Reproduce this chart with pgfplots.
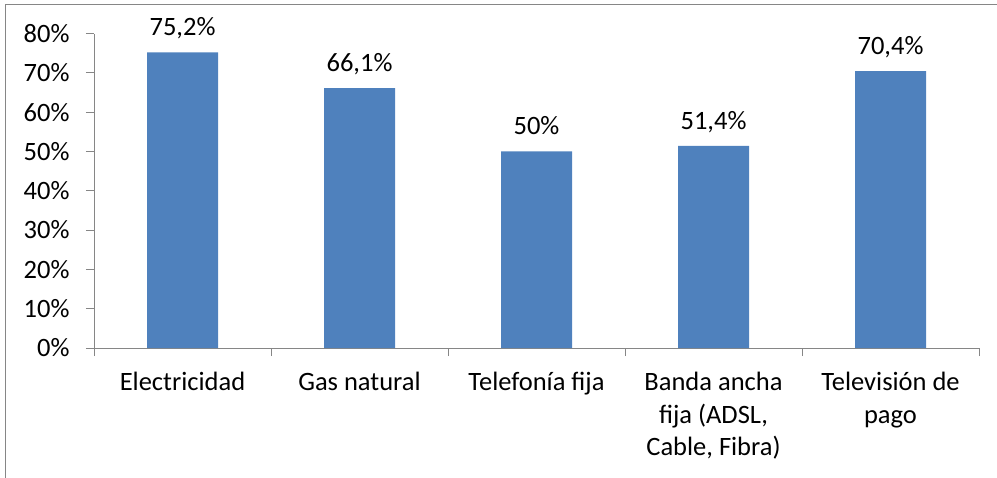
\documentclass[border=0pt]{standalone}
\usepackage{fontspec}
\setmainfont{Carlito}
\usepackage{pgfplots}
\pgfplotsset{compat=1.18}
\definecolor{barblue}{RGB}{79,129,189}
\definecolor{axgray}{RGB}{134,134,134}
\newcommand\f{\fontsize{26.5bp}{32.5bp}\selectfont}
\begin{document}
\begin{tikzpicture}
\useasboundingbox (0,0) rectangle (997bp,-478bp);
\draw[axgray, line width=1.3bp] (5.7bp,-478bp) -- (5.7bp,-4.7bp) -- (997bp,-4.7bp);
\begin{axis}[
  at={(94bp,-348bp)}, anchor=south west,
  scale only axis, width=885bp, height=314.5bp,
  xmin=-0.5, xmax=4.5, ymin=0, ymax=80,
  axis x line*=bottom, axis y line*=left,
  axis line style={axgray, line width=1bp, -},
  /pgf/number format/assume math mode=true,
  ytick={0,10,...,80},
  yticklabel={\pgfmathprintnumber{\tick}\%},
  yticklabel style={xshift=-13bp},
  xtick={-0.5,0.5,...,4.5}, xticklabels={},
  extra x ticks={0,1,2,3,4},
  extra x tick labels={Electricidad, Gas natural, Telefonía fija, {Banda ancha\\fija (ADSL,\\Cable, Fibra)}, {Televisión de\\pago}},
  extra x tick style={major tick length=0pt, tick style={draw=none}},
  tick align=outside, major tick length=8bp,
  tick style={axgray, line width=1bp},
  every tick label/.append style={font=\f, text=black},
  xticklabel style={align=center, yshift=-21bp},
]
\addplot[ybar, bar width=71bp, fill=barblue, draw=none,
  nodes near coords={\pgfmathprintnumber[use comma,fixed,precision=1]{\pgfplotspointmeta}\%},
  every node near coord/.append style={font=\f, text=black, anchor=base, yshift=16.5bp}]
  coordinates {(0,75.2) (1,66.1) (2,50) (3,51.4) (4,70.4)};
\end{axis}
\end{tikzpicture}
\end{document}
